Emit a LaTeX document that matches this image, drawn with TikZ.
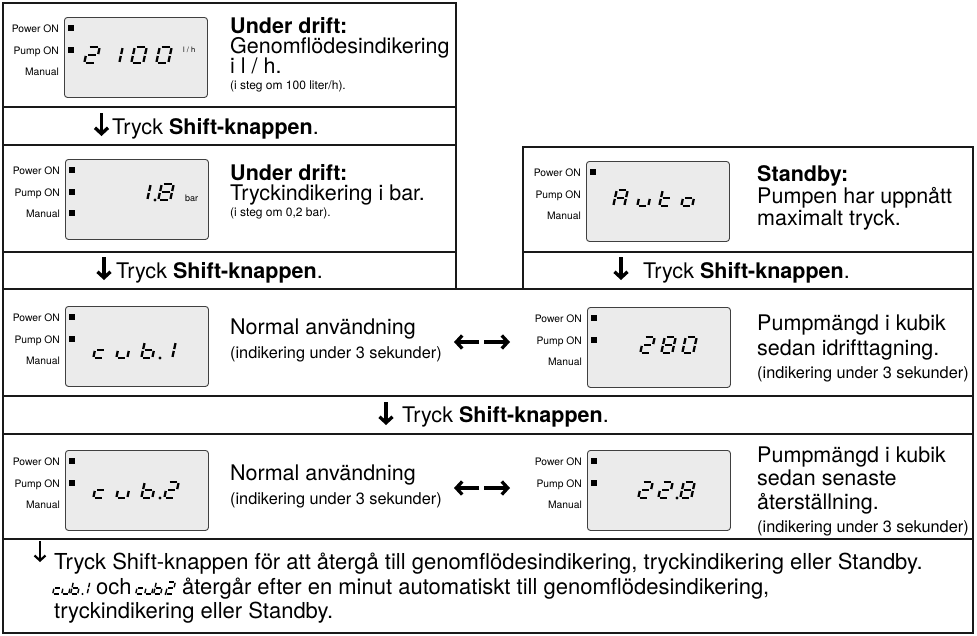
\documentclass[tikz,border=0pt]{standalone}
\usepackage{fontspec}
\setmainfont{TeX Gyre Heros}
\usetikzlibrary{arrows.meta,calc}
% seven-segment pieces (local: x 0..1, y -1 top .. 1 bottom)
\newcommand\sgA{\draw[segl] (0.16,-1) -- (0.84,-1);}
\newcommand\sgB{\draw[segl] (1,-0.86) -- (1,-0.12);}
\newcommand\sgC{\draw[segl] (1,0.12) -- (1,0.86);}
\newcommand\sgD{\draw[segl] (0.16,1) -- (0.84,1);}
\newcommand\sgE{\draw[segl] (0,0.12) -- (0,0.86);}
\newcommand\sgF{\draw[segl] (0,-0.86) -- (0,-0.12);}
\newcommand\sgG{\draw[segl] (0.16,0) -- (0.84,0);}
\newcommand\sgdC{\sgG\sgE\sgD}
\newcommand\sgdU{\sgC\sgD\sgE}
\newcommand\sgdB{\sgF\sgE\sgG\sgC\sgD}
\newcommand\sgdOne{\sgB\sgC}
\newcommand\sgdTwo{\sgA\sgB\sgG\sgE\sgD}
\newcommand\sgdEight{\sgA\sgB\sgC\sgD\sgE\sgF\sgG}
\newcommand\sgdZero{\sgA\sgB\sgC\sgD\sgE\sgF}
\newcommand\sgdA{\sgA\sgB\sgC\sgE\sgF\sgG}
\newcommand\sgdT{\sgF\sgE\sgG\sgD}
\newcommand\sgdO{\sgG\sgC\sgD\sgE}
\newcommand\sdig[6][2.3pt]{\begin{scope}[shift={(#2,#3)},xslant=0.22,xscale=#4,yscale=#5,segl/.style={line width=#1}]#6\end{scope}}
% LCD panel with labels
\newcommand\lcd[4]{%
  \node[disp,anchor=north west] (#1) at (#2,#3) {};
  \node[lab] (#1-p) at ($(#1.north west)+(-5,15)$) {Power ON};
  \node[lab] (#1-u) at ($(#1.north west)+(-5,37)$) {Pump ON};
  \node[lab] (#1-m) at ($(#1.north west)+(-5,58)$) {Manual};
  \foreach \r in {#4} {\fill ($(#1.north west)+(3.5,\r-3)$) rectangle ++(6,6);}
}
\begin{document}
\begin{tikzpicture}[x=1pt,y=-1pt,
  frame/.style={line width=1.4pt,draw=black!90},
  disp/.style={draw=black!75,line width=0.9pt,fill=black!8,rounded corners=3pt,minimum width=143pt,minimum height=80pt,inner sep=0pt},
  lab/.style={anchor=base east,inner sep=0pt,font=\fontsize{10.3}{12}\selectfont},
  txt/.style={anchor=base west,inner sep=0pt,font=\fontsize{21.5}{24}\selectfont},
  sm/.style={anchor=base west,inner sep=0pt,font=\fontsize{12}{14}\selectfont},
  md/.style={anchor=base west,inner sep=0pt,font=\fontsize{16.3}{18}\selectfont},
  bt/.style={anchor=base west,inner sep=0pt,font=\fontsize{22}{24}\selectfont},
  tiny/.style={anchor=base west,inner sep=0pt,font=\fontsize{8}{9}\selectfont},
  darr/.style={line width=3.3pt,-{Straight Barb[length=6pt,width=13pt]}},
  harr/.style={line width=3.3pt,-{Straight Barb[length=6pt,width=13pt]}},
  barr/.style={line width=2.2pt,-{Straight Barb[length=5pt,width=11pt]}},
  segl/.style={line width=2.3pt}]
\useasboundingbox (0,0) rectangle (977,635);
\fill[white] (0,0) rectangle (977,635);
% frames
\draw[frame] (3,289) -- (3,3) -- (456,3) -- (456,289);
\draw[frame] (3,107) -- (456,107);
\draw[frame] (3,145) -- (456,145);
\draw[frame] (3,252) -- (456,252);
\draw[frame] (523,289) -- (523,147) -- (973,147) -- (973,289);
\draw[frame] (523,252) -- (973,252);
\draw[frame] (3,289) rectangle (973,633);
\draw[frame] (3,396) -- (973,396);
\draw[frame] (3,434) -- (973,434);
\draw[frame] (3,539) -- (973,539);

% panel 1: flow
\lcd{d1}{64}{17}{11,33}
\sdig{86}{55}{12}{8}{\sgdTwo}
\sdig{109}{55}{12}{8}{\sgdOne}
\sdig{133}{55}{12}{8}{\sgdZero}
\sdig{158}{55}{12}{8}{\sgdZero}
\node[tiny,font=\fontsize{7.5}{9}\selectfont] (d1u) at (183,52) {l / h};
\node[txt] (t1a) at (230,33) {\bfseries Under drift:};
\node[txt] (t1b) at (230,53) {Genomflödesindikering};
\node[txt] (t1c) at (230,73) {i l / h.};
\node[sm] (t1d) at (230,89) {(i steg om 100 liter/h).};
\coordinate (a1s) at (101.5,113); \coordinate (a1e) at (101.5,136);
\draw[darr] (a1s) -- (a1e);
\node[txt] (k1) at (112,134) {Tryck \textbf{Shift-knappen}.};

% panel 2: pressure
\lcd{d2}{65}{159}{11,33,54}
\sdig{137}{192}{12}{8}{\sgdOne}
\fill (155,200) circle (1.6);
\sdig{160}{192}{12}{8}{\sgdEight}
\node[tiny,font=\fontsize{9}{10}\selectfont] (d2u) at (185,201) {bar};
\node[txt] (t2a) at (230,180) {\bfseries Under drift:};
\node[txt] (t2b) at (230,200) {Tryckindikering i bar.};
\node[sm] (t2c) at (230,216) {(i steg om 0,2 bar).};
\coordinate (a2s) at (104,257); \coordinate (a2e) at (104,280);
\draw[darr] (a2s) -- (a2e);
\node[txt] (k2) at (116,278) {Tryck \textbf{Shift-knappen}.};

% panel 3: standby
\lcd{d3}{586}{161}{11}
\sdig{615}{198}{11}{8}{\sgdA}
\sdig{639}{198}{11}{8}{\sgdU}
\sdig{661}{198}{11}{8}{\sgdT}
\sdig{683}{198}{11}{8}{\sgdO}
\node[txt] (t3a) at (757,181) {\bfseries Standby:};
\node[txt] (t3b) at (757,203) {Pumpen har uppnått};
\node[txt] (t3c) at (757,225) {maximalt tryck.};
\coordinate (a3s) at (621,257); \coordinate (a3e) at (621,280);
\draw[darr] (a3s) -- (a3e);
\node[txt] (k3) at (643,278) {Tryck \textbf{Shift-knappen}.};

% row 3: cub.1 / 280
\lcd{d4}{65}{306}{11,33}
\sdig{95}{350}{11}{8}{\sgdC}
\sdig{118}{350}{11}{8}{\sgdU}
\sdig{143}{350}{11}{8}{\sgdB}
\fill (160,358) circle (1.6);
\sdig{163}{350}{11}{8}{\sgdOne}
\node[txt] (t4a) at (230,334) {Normal användning};
\node[md] (t4b) at (230,358.5) {(indikering under 3 sekunder)};
\coordinate (h1m) at (479,342); \coordinate (h1l) at (454,342);
\coordinate (h1n) at (484,342); \coordinate (h1r) at (510,342);
\draw[harr] (h1m) -- (h1l);
\draw[harr] (h1n) -- (h1r);
\lcd{d5}{587}{307}{11,33}
\sdig{642}{345}{11}{8}{\sgdTwo}
\sdig{663}{345}{11}{8}{\sgdEight}
\sdig{684}{345}{11}{8}{\sgdZero}
\node[txt] (t5a) at (757,330) {Pumpmängd i kubik};
\node[txt] (t5b) at (757,355) {sedan idrifttagning.};
\node[md] (t5c) at (757,378.5) {(indikering under 3 sekunder)};
\coordinate (a4s) at (386,402); \coordinate (a4e) at (386,425);
\draw[darr] (a4s) -- (a4e);
\node[txt] (k4) at (402,422) {Tryck \textbf{Shift-knappen}.};

% row 4: cub.2 / 22.8
\lcd{d6}{65}{450}{11,33}
\sdig{95}{490}{11}{8}{\sgdC}
\sdig{118}{490}{11}{8}{\sgdU}
\sdig{143}{490}{11}{8}{\sgdB}
\fill (160,498) circle (1.6);
\sdig{166}{490}{11}{8}{\sgdTwo}
\node[txt] (t6a) at (230,480) {Normal användning};
\node[md] (t6b) at (230,504.5) {(indikering under 3 sekunder)};
\coordinate (h2m) at (479,488); \coordinate (h2l) at (454,488);
\coordinate (h2n) at (484,488); \coordinate (h2r) at (510,488);
\draw[harr] (h2m) -- (h2l);
\draw[harr] (h2n) -- (h2r);
\lcd{d7}{587}{450}{11,33}
\sdig{640}{490}{11}{8}{\sgdTwo}
\sdig{660}{490}{11}{8}{\sgdTwo}
\fill (677,498) circle (1.6);
\sdig{682}{490}{11}{8}{\sgdEight}
\node[txt] (t7a) at (757,462) {Pumpmängd i kubik};
\node[txt] (t7b) at (757,485) {sedan senaste};
\node[txt] (t7c) at (757,509) {återställning.};
\node[md] (t7d) at (757,532.5) {(indikering under 3 sekunder)};

% bottom text
\coordinate (a5s) at (40,541); \coordinate (a5e) at (40,562);
\draw[barr] (a5s) -- (a5e);
\node[bt] (b1) at (54,569) {Tryck Shift-knappen för att återgå till genomflödesindikering, tryckindikering eller Standby.};
\sdig[1.4pt]{54}{588}{7}{6}{\sgdC}
\sdig[1.4pt]{63}{588}{7}{6}{\sgdU}
\sdig[1.4pt]{72}{588}{7}{6}{\sgdB}
\fill (82.5,594) circle (1.1);
\sdig[1.4pt]{81.5}{588}{7}{6}{\sgdOne}
\node[bt] (b2a) at (96,594) {och};
\sdig[1.4pt]{137}{588}{7}{6}{\sgdC}
\sdig[1.4pt]{146}{588}{7}{6}{\sgdU}
\sdig[1.4pt]{155}{588}{7}{6}{\sgdB}
\fill (165.5,594) circle (1.1);
\sdig[1.4pt]{167}{588}{7}{6}{\sgdTwo}
\node[bt] (b2b) at (182,594) {återgår efter en minut automatiskt till genomflödesindikering,};
\node[bt] (b3) at (54,618) {tryckindikering eller Standby.};
\end{tikzpicture}
\end{document}
